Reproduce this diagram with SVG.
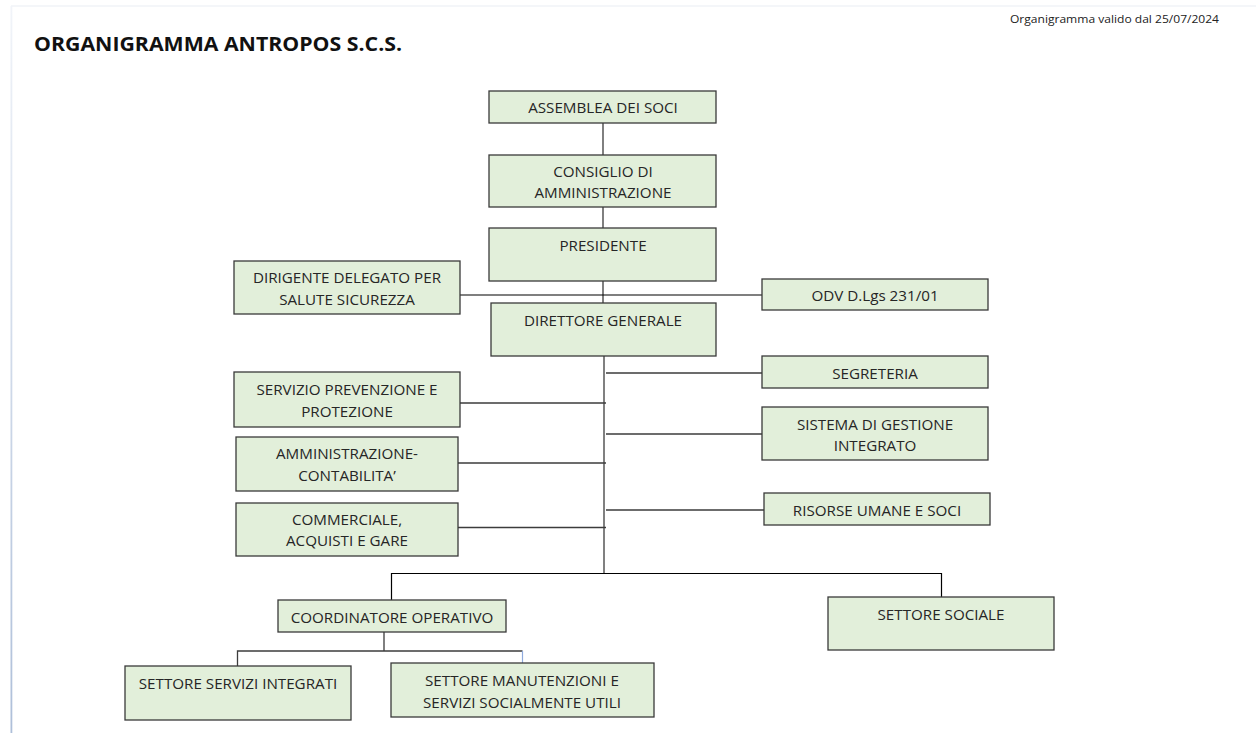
<svg xmlns="http://www.w3.org/2000/svg" width="1256" height="733" viewBox="0 0 1256 733">
<defs>
<linearGradient id="edge" x1="0" y1="0" x2="0" y2="1">
<stop offset="0" stop-color="#f1f4f9"/>
<stop offset="1" stop-color="#aebfd9"/>
</linearGradient>
<style>
.box{fill:#e2efda;stroke:#3a3a3a;stroke-width:1.3}
.t{font-family:"Open Sans","Liberation Sans",sans-serif;font-size:15.2px;fill:#262626;text-anchor:middle}
.ln{stroke:#3c3c3c;stroke-width:1.3;fill:none}
.blk{stroke:#000;stroke-width:1.2;fill:none}
</style>
</defs>
<rect width="1256" height="733" fill="#fff"/>
<line x1="11" y1="6" x2="1256" y2="6" stroke="#f1f3f7" stroke-width="1.5"/>
<rect x="10.5" y="6" width="1.8" height="727" fill="url(#edge)"/>
<text x="34" y="51" font-family="'Open Sans','Liberation Sans',sans-serif" font-weight="bold" font-size="20" fill="#111" textLength="368" lengthAdjust="spacingAndGlyphs">ORGANIGRAMMA ANTROPOS S.C.S.</text>
<text x="1010" y="23" font-family="'Open Sans','Liberation Sans',sans-serif" font-size="11" fill="#222" textLength="209" lengthAdjust="spacingAndGlyphs">Organigramma valido dal 25/07/2024</text>
<g id="connectors">
<path class="ln" d="M603 123V155M603 207V228M603 281V303"/>
<path class="blk" d="M460 295H762"/>
<path class="ln" d="M604 356V573"/>
<path class="ln" d="M606 373H765M460 403H606M606 434H762M458 463H606M606 510H764M458 527.5H606"/>
<path class="blk" d="M391.5 600V573.5H941.5V597"/>
<path class="ln" d="M384 632V651M237.5 666V651H522.5"/>
<path d="M522.5 651V663" stroke="#8faadc" stroke-width="1.2"/>
</g>
<g id="assemblea"><rect class="box" x="489" y="91" width="227" height="32"/><text class="t" x="603" y="112.5">ASSEMBLEA DEI SOCI</text></g>
<g id="consiglio"><rect class="box" x="489" y="155" width="227" height="52"/><text class="t" x="603" y="176.5">CONSIGLIO DI</text><text class="t" x="603" y="197.5">AMMINISTRAZIONE</text></g>
<g id="presidente"><rect class="box" x="489" y="228" width="227" height="53"/><text class="t" x="603" y="250.5">PRESIDENTE</text></g>
<g id="dirigente"><rect class="box" x="234" y="261" width="226" height="53"/><text class="t" x="347" y="282.5">DIRIGENTE DELEGATO PER</text><text class="t" x="347" y="304.5">SALUTE SICUREZZA</text></g>
<g id="odv"><rect class="box" x="762" y="279" width="226" height="31"/><text class="t" x="875" y="300.5">ODV D.Lgs 231/01</text></g>
<g id="direttore"><rect class="box" x="491" y="303" width="225" height="53"/><text class="t" x="603" y="325.5">DIRETTORE GENERALE</text></g>
<g id="segreteria"><rect class="box" x="762" y="356" width="226" height="32"/><text class="t" x="875" y="378.5">SEGRETERIA</text></g>
<g id="spp"><rect class="box" x="234" y="372" width="226" height="55"/><text class="t" x="347" y="394.5">SERVIZIO PREVENZIONE E</text><text class="t" x="347" y="416.5">PROTEZIONE</text></g>
<g id="sgi"><rect class="box" x="762" y="407" width="226" height="53"/><text class="t" x="875" y="429.5">SISTEMA DI GESTIONE</text><text class="t" x="875" y="450.5">INTEGRATO</text></g>
<g id="amministrazione"><rect class="box" x="236" y="437" width="222" height="54"/><text class="t" x="347" y="458.5">AMMINISTRAZIONE-</text><text class="t" x="347" y="480.5">CONTABILITA’</text></g>
<g id="risorse"><rect class="box" x="764" y="493" width="226" height="32"/><text class="t" x="877" y="515.5">RISORSE UMANE E SOCI</text></g>
<g id="commerciale"><rect class="box" x="236" y="503" width="222" height="53"/><text class="t" x="347" y="524.5">COMMERCIALE,</text><text class="t" x="347" y="545.5">ACQUISTI E GARE</text></g>
<g id="coordinatore"><rect class="box" x="278" y="600" width="228" height="32"/><text class="t" x="392" y="622.5">COORDINATORE OPERATIVO</text></g>
<g id="sociale"><rect class="box" x="828" y="597" width="226" height="53"/><text class="t" x="941" y="619.5">SETTORE SOCIALE</text></g>
<g id="servizi-integrati"><rect class="box" x="125" y="666" width="226" height="54"/><text class="t" x="238" y="688.5">SETTORE SERVIZI INTEGRATI</text></g>
<g id="manutenzioni"><rect class="box" x="391" y="663" width="263" height="54"/><text class="t" x="522" y="685.5">SETTORE MANUTENZIONI E</text><text class="t" x="522" y="707.5">SERVIZI SOCIALMENTE UTILI</text></g>
</svg>
